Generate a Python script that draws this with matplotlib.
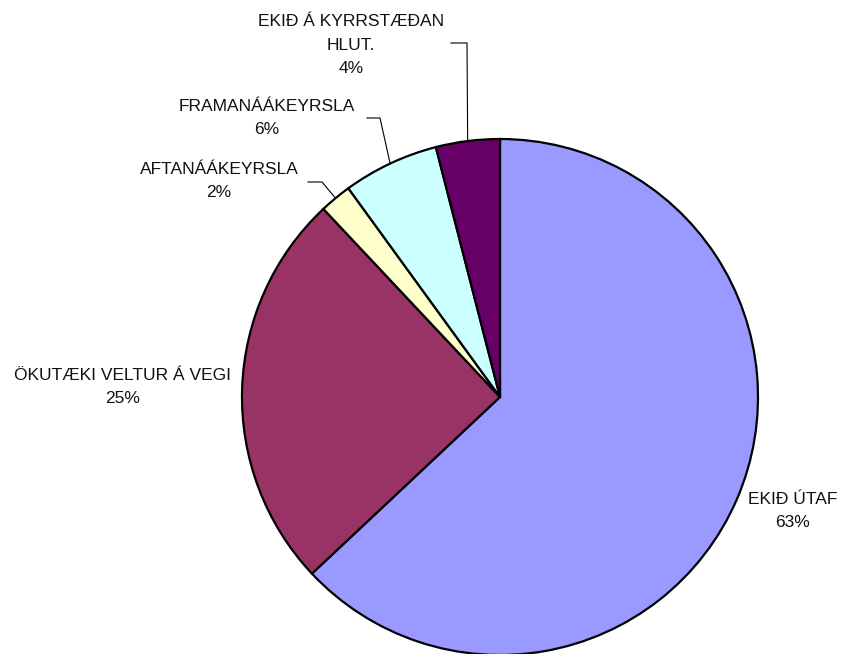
import numpy as np
import matplotlib.pyplot as plt

categories = ["EKIÐ ÚTAF", "ÖKUTÆKI VELTUR Á VEGI", "AFTANÁÁKEYRSLA",
              "FRAMANÁÁKEYRSLA", "EKIÐ Á KYRRSTÆÐAN\nHLUT."]
values = [63, 25, 2, 6, 4]
colors = ["#9999FF", "#993366", "#FFFFCC", "#CCFFFF", "#660066"]

W, H = 843, 654
cx, cy, r = 500, H - 397, 258

# label centres (pixels from top) and leader elbows (None = no leader)
label_pos = [(793, 511), (123, 387), (219, 181), (267, 118), (351, 45)]
elbows = [None, None, [(308, 182), (322, 182)], [(367, 118), (380, 118)],
          [(451, 43), (467, 43)]]

plt.rcParams['font.family'] = ['Liberation Sans', 'DejaVu Sans']
fig = plt.figure(figsize=(W / 100, H / 100), dpi=100)
ax = fig.add_axes([0, 0, 1, 1])
ax.axis('off')

wedges, _ = ax.pie(values, colors=colors, startangle=90, counterclock=False,
                   center=(cx, cy), radius=r,
                   wedgeprops=dict(edgecolor='black', linewidth=1.6))
ax.set_xlim(0, W)
ax.set_ylim(0, H)
ax.set_aspect('equal')

for w, cat, v, (lx, ly), el in zip(wedges, categories, values, label_pos, elbows):
    ax.text(lx, H - ly, f"{cat}\n{v}%", ha='center', va='center',
            fontsize=12.5, linespacing=1.7, color='#111111')
    if el is not None:
        mid = np.deg2rad((w.theta1 + w.theta2) / 2)
        px, py = cx + r * np.cos(mid), cy + r * np.sin(mid)
        xs = [el[0][0], el[1][0], px]
        ys = [H - el[0][1], H - el[1][1], py]
        ax.plot(xs, ys, color='black', linewidth=0.8)

fig.savefig("out.png", dpi=100)
